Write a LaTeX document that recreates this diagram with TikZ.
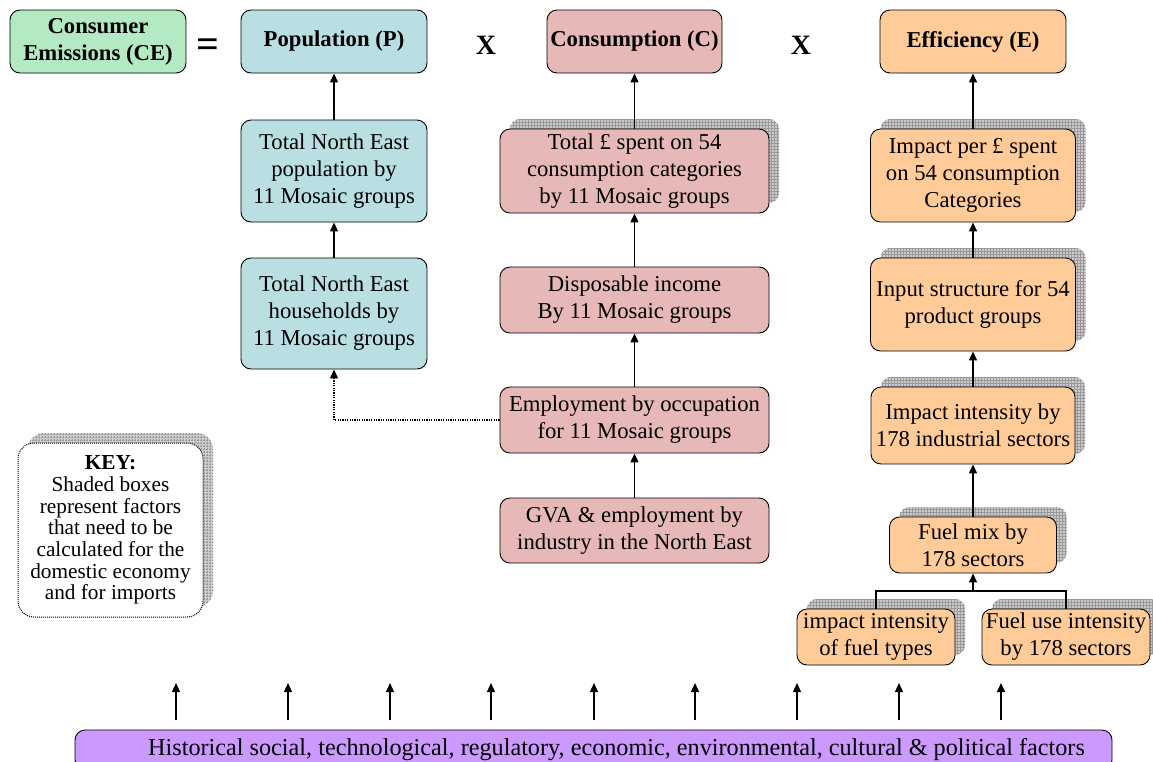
\documentclass[tikz,border=0pt]{standalone}
\usepackage{fontspec}
\setmainfont{Liberation Serif}
\usetikzlibrary{arrows.meta,shadows,patterns}
\definecolor{cegreen}{RGB}{179,234,196}
\definecolor{popblue}{RGB}{185,223,227}
\definecolor{conpink}{RGB}{230,185,184}
\definecolor{efforange}{RGB}{255,204,153}
\definecolor{histpurple}{RGB}{204,153,255}
\begin{document}
\begin{tikzpicture}[x=1pt,y=-1pt,
  box/.style={draw=black, line width=0.9pt, rounded corners=10pt, align=center, inner sep=2pt, font=\fontsize{22.7}{27}\selectfont},
  head/.style={box, font=\fontsize{22.7}{27}\selectfont\bfseries},
  shade/.style={general shadow={fill=gray!40, shadow xshift=10pt, shadow yshift=10pt},
                general shadow={pattern=grid, pattern color=gray!80, shadow xshift=10pt, shadow yshift=10pt}},
  arr/.style={line width=1.3pt, -{Triangle[length=9pt,width=8pt]}},
  dotarr/.style={line width=1.2pt, dash pattern=on 1.2pt off 1.2pt, -{Triangle[length=9pt,width=8pt]}},
  op/.style={font=\fontsize{28}{30}\selectfont\bfseries, inner sep=0pt},
]
\clip (0,0) rectangle (1153,761);
% top row
\node[head, fill=cegreen, minimum width=176pt, minimum height=63pt] (ce) at (98,41.5) {Consumer\\Emissions (CE)};
\node[op, font=\fontsize{40}{40}\selectfont\bfseries] (eq) at (208,48) {=};
\node[head, fill=popblue, minimum width=186pt, minimum height=63pt] (pop) at (334,41.5) {Population (P)};
\node[op] (x1) at (486,45.5) {X};
\node[head, fill=conpink, minimum width=175pt, minimum height=63pt] (con) at (634.5,41.5) {Consumption (C)};
\node[op] (x2) at (801,45.5) {X};
\node[head, fill=efforange, minimum width=186pt, minimum height=63pt] (eff) at (973,41.5) {Efficiency (E)};
% population column
\node[box, fill=popblue, minimum width=186pt, minimum height=102pt] (totpop) at (334,171) {Total North East\\population by\\11 Mosaic groups};
\node[box, fill=popblue, minimum width=186pt, minimum height=111pt] (hh) at (334,313.5) {Total North East\\households by\\11 Mosaic groups};
% consumption column
\node[box, shade, fill=conpink, minimum width=269pt, minimum height=84pt] (spent) at (634.5,171) {Total £ spent on 54\\consumption categories\\by 11 Mosaic groups};
\node[box, fill=conpink, minimum width=269pt, minimum height=66pt] (disp) at (634.5,300) {Disposable income\\By 11 Mosaic groups};
\node[box, fill=conpink, minimum width=269pt, minimum height=66pt] (empl) at (634.5,420) {Employment by occupation\\for 11 Mosaic groups};
\node[box, fill=conpink, minimum width=269pt, minimum height=65pt] (gva) at (634.5,530.5) {GVA \& employment by\\industry in the North East};
% efficiency column
\node[box, shade, fill=efforange, minimum width=205pt, minimum height=93pt] (imp) at (973,175.5) {Impact per £ spent\\on 54 consumption\\Categories};
\node[box, shade, fill=efforange, minimum width=205pt, minimum height=93pt] (inp) at (973,304.5) {Input structure for 54\\product groups};
\node[box, shade, fill=efforange, minimum width=204pt, minimum height=77pt] (ii) at (973,425.5) {Impact intensity by\\178 industrial sectors};
\node[box, shade, fill=efforange, minimum width=167pt, minimum height=56pt] (fm) at (973,545) {Fuel mix by\\178 sectors};
\node[box, shade, fill=efforange, minimum width=158pt, minimum height=56pt] (fti) at (876,637) {impact intensity\\of fuel types};
\node[box, shade, fill=efforange, minimum width=168pt, minimum height=56pt] (fui) at (1066,637) {Fuel use intensity\\by 178 sectors};
% key
\node[box, shade, fill=white, line width=1pt, dash pattern=on 1pt off 1pt, rounded corners=16pt, minimum width=185pt, minimum height=174pt, font=\fontsize{21.3}{21.7}\selectfont] (key) at (110.5,530) {\textbf{KEY:}\\Shaded boxes\\represent factors\\that need to be\\calculated for the\\domestic economy\\and for imports};
% bottom
\node[box, fill=histpurple, minimum width=1037pt, minimum height=40pt, font=\fontsize{24.2}{27}\selectfont] (hist) at (593.5,750) {\hspace*{46pt}Historical social, technological, regulatory, economic, environmental, cultural \& political factors};
% connectors
\draw[arr] (totpop) -- (pop);
\draw[arr] (hh) -- (totpop);
\draw[arr] (spent) -- (con);
\draw[arr] (disp) -- (spent);
\draw[arr] (empl) -- (disp);
\draw[arr] (gva) -- (empl);
\draw[dotarr] (empl.west) -| (hh.south);
\draw[arr] (imp) -- (eff);
\draw[arr] (inp) -- (imp);
\draw[arr] (ii) -- (inp);
\draw[arr] (fm) -- (ii);
\coordinate (j) at (973,591);
\draw[line width=1.3pt] (fti.north) |- (j) -| (fui.north);
\draw[arr] (j) -- (fm.south);
\foreach \i/\xx in {1/176,2/288,3/390,4/491,5/594,6/695,7/797,8/899,9/1001} {
  \coordinate (b\i) at (\xx,720);
  \coordinate (t\i) at (\xx,683);
  \draw[arr] (b\i) -- (t\i);
}
\end{tikzpicture}
\end{document}
